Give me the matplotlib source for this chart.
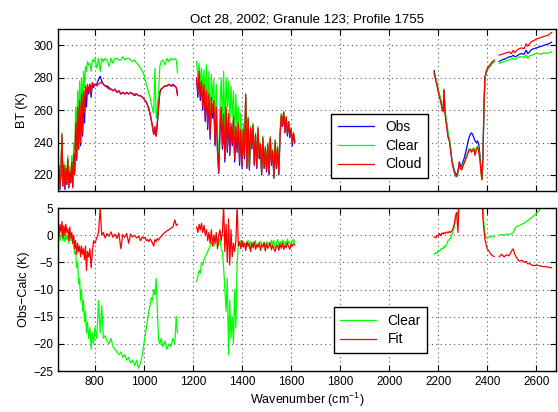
import numpy as np
import matplotlib
matplotlib.use('Agg')
import matplotlib.pyplot as plt

plt.rcParams['font.family'] = ['Liberation Sans', 'DejaVu Sans']
plt.rcParams['mathtext.default'] = 'regular'

# band 1 (650-1137 cm-1)
wn1 = [650, 654, 658, 662, 666, 670, 674, 678, 682, 686, 690, 694, 698, 702, 706, 710, 714, 718,
       722, 726, 730, 734, 738, 742, 746, 750, 754, 758, 762, 766, 770, 775, 780, 785, 790, 795, 800,
       808, 815, 822, 828, 835, 842, 850, 858, 866, 874, 882, 890, 898, 906, 914, 922, 930, 938, 946,
       954, 962, 970, 978, 986, 994, 1000, 1005, 1010, 1015, 1020, 1025, 1030, 1035, 1040, 1045, 1050,
       1055, 1060, 1065, 1070, 1078, 1086, 1094, 1102, 1110, 1118, 1126, 1132, 1137]
obs1 = [214, 224, 211, 222, 243, 213, 226, 211, 224, 214, 229, 212, 222, 215, 228, 213, 234, 222,
        250, 229, 260, 236, 264, 238, 268, 244, 270, 252, 273, 262, 275, 270, 276, 268, 277, 274, 276,
        276, 279, 281, 278, 276, 275, 275, 274, 273, 272, 273, 271, 272, 270, 271, 270, 271, 270, 271,
        270, 269, 270, 269, 269, 268, 267, 266, 265, 263, 261, 258, 254, 250, 245, 249, 244,
        252, 262, 271, 273, 274, 275, 275, 276, 275, 276, 275, 274, 270]
clr1 = [216, 226, 212, 225, 246, 215, 228, 213, 226, 216, 232, 214, 225, 218, 232, 216, 240, 228,
        262, 240, 272, 250, 278, 256, 280, 262, 284, 274, 287, 284, 290, 288, 289, 284, 291, 290, 292,
        286, 292, 284, 292, 290, 292, 291, 287, 292, 289, 292, 292, 291, 291, 293, 291, 292, 292, 291,
        290, 291, 289, 288, 286, 284, 282, 279, 276, 273, 271, 268, 264, 261, 258, 286, 255,
        262, 272, 287, 290, 291, 288, 292, 290, 292, 291, 292, 291, 283]
cld1 = [218, 226, 212, 222, 245, 214, 226, 212, 224, 215, 230, 213, 222, 216, 228, 212, 233, 220,
        252, 230, 262, 236, 266, 240, 270, 246, 272, 258, 275, 268, 276, 272, 276, 270, 277, 275, 276,
        275, 276, 277, 277, 276, 275, 274, 273, 273, 272, 273, 271, 272, 270, 271, 270, 271, 270, 271,
        270, 270, 270, 269, 269, 268, 267, 266, 265, 263, 261, 258, 254, 250, 245, 250, 244,
        253, 263, 271, 273, 274, 275, 275, 276, 275, 275, 275, 274, 269]
dclr1 = [-0.5, 0.5, -1, 0, 0.5, -1, 0, -1.2, 0.2, -0.8, 0, -1.5, 0.3, -1, -0.5, -1.5, -2, -3.5,
         -3, -6, -5, -9, -8, -12, -10, -14, -12, -16, -14, -18, -16, -19, -17, -21, -18, -20, -17,
         -19, -12, -18, -13, -19, -18.5, -19.5, -20, -19, -20.5, -21, -21.5, -22, -21.5, -22.5, -22,
         -23, -22.5, -23.5, -23, -24, -23, -24.5, -23.5, -22, -20, -18.5, -17, -15.5, -14, -13, -11.5,
         -12, -10, -11, -8, -14, -19.5, -20, -19, -20.5, -19.5, -21, -20, -20.5, -19, -20, -15, -18]
dfit1 = [1.5, 0, 2, 0.5, 2.5, -0.5, 1.8, 0, 2, 0.5, 1.2, -1, 1.5, -0.5, 0.5, -1.5, 0, -2.5,
         -1, -3.5, -1.5, -3, -2, -4, -2, -3.5, -2.5, -4.5, -2, -6.5, -3, -4, -2.5, -6, -3, -1, -1.5,
         -0.5, 0.5, 5, 0, 0.5, -0.5, 0.3, -0.2, 0.6, -0.4, 0.2, -0.6, 0.4, -2.5, 0.1, -0.4, 0.3, -1.5,
         0.2, -0.3, 0, -0.5, -0.2, -1, -0.3, -0.6, -0.4, -1, -0.8, -1.2, -0.7, -1, -1.5, -2, -0.8,
         -1.2, -0.6, -0.9, -0.5, -0.3, 0.2, 0.5, 0.8, 1, 1.3, 1.5, 2.8, 1.8, 2]

# band 2 (1215-1615 cm-1)
wn2 = list(range(1215, 1616, 5))
obs2 = [279, 268, 283, 266, 277, 260, 275, 253, 271, 248, 268, 242, 266, 255, 264, 238, 260, 234,
        221, 246, 260, 236, 256, 228, 260, 234, 256, 232, 250, 238, 254, 228, 248, 234, 250, 226,
        246, 224, 246, 230, 268, 224, 254, 223, 248, 236, 250, 226, 244, 224, 248, 230, 238, 220,
        242, 224, 236, 222, 238, 220, 242, 226, 234, 218, 240, 224, 236, 220, 244, 256, 250, 258,
        246, 255, 244, 252, 243, 248, 238, 245, 240]
clr2 = [290, 280, 289, 276, 286, 272, 285, 262, 288, 258, 284, 250, 282, 266, 279, 246, 276, 242,
        226, 262, 280, 252, 284, 246, 280, 262, 278, 250, 275, 256, 272, 240, 270, 244, 262, 232,
        258, 228, 252, 234, 270, 226, 256, 225, 250, 238, 252, 228, 246, 226, 250, 232, 240, 222,
        244, 226, 238, 224, 240, 222, 244, 228, 236, 220, 242, 226, 238, 222, 246, 258, 252, 259,
        248, 256, 246, 253, 245, 249, 240, 246, 241]
cld2 = [280, 270, 284, 268, 278, 262, 276, 255, 272, 250, 270, 245, 268, 258, 266, 240, 262, 236,
        222, 248, 262, 238, 258, 230, 262, 236, 258, 234, 252, 240, 256, 230, 250, 236, 252, 228,
        248, 226, 248, 232, 270, 225, 255, 224, 249, 237, 251, 227, 245, 225, 249, 231, 239, 221,
        243, 225, 237, 223, 239, 221, 243, 227, 235, 219, 241, 225, 237, 221, 245, 257, 251, 259,
        247, 256, 245, 253, 244, 249, 240, 246, 241]
dclr2 = [-8.5, -7.5, -6.5, -7, -5, -5.5, -4.5, -4, -3.5, -3, -2.5, -2, -1.5, -1, -2, -1.5, -0.5, -1,
         -2, -0.5, -2.5, -3, -6, -10, -14, -8, -22, -12, -19, -15, -20, -10, -17, -5, -2, -1.5,
         -1, -2, -1.2, -1.8, -1.5, -2.2, -1, -2.5, -1.2, -1.8, -1.3, -2, -1, -2.4, -1.5, -2, -1.1, -1.6,
         -2.3, -1.4, -2.6, -1.2, -1.9, -1.3, -2.1, -0.9, -1.7, -1, -2.4, -1.5, -0.8, -2, -1.2, -1.6,
         -0.9, -1.8, -1.1, -2.2, -0.7, -1.5, -1.2, -1.9, -1, -0.8, -1.3]
dfit2 = [1.5, 0.5, 2, 1, 2.2, 0.5, 1.8, 0, 1, -1, 0.5, -1.5, 1, -2, 0, -1.5, 0.5, -2.5,
         0, 1, -1, 0.5, 5.5, -3, 2, -5, 3, -5.5, 1, -4, -1.5, -3, -1, 5.5, -2, -1.2,
         -2.5, -1, -2.2, -1.5, -2.8, -1.2, -2, -1.6, -3, -1.5, -2.3, -1.2, -2.6, -1.8, -2.2, -1.4, -2.8,
         -1.7, -2.1, -1.3, -2.9, -1.6, -2.4, -2, -1.4, -2.7, -1.8, -2.5, -3, -2.1, -1.9, -2.8, -1.6,
         -2.4, -1.5, -2.6, -1.9, -2.3, -1.4, -2.1, -2.6, -1.7, -2, -1.5, -1.8]

# band 3a (2183-2428 cm-1)
wn3 = [2183, 2190, 2195, 2200, 2205, 2210, 2215, 2220, 2223, 2228, 2235, 2240, 2245, 2250, 2255,
       2260, 2265, 2270, 2275, 2280, 2286, 2290, 2295, 2300, 2305, 2310, 2315, 2320, 2325, 2330,
       2335, 2340, 2345, 2350, 2355, 2360, 2365, 2370, 2374, 2378, 2382, 2386, 2390, 2395, 2400,
       2405, 2410, 2415, 2420, 2428]
obs3 = [284.5, 279, 276, 272, 269, 266, 262, 260, 272, 258, 250, 244, 242, 236, 230,
        226, 223, 221, 220, 222, 228, 226, 225, 228, 230, 233, 236, 240, 243, 245,
        246, 245, 243, 241, 240, 241, 239, 232, 224, 218, 232, 262, 280, 283, 285,
        286, 287, 288, 289, 290]
clr3 = [283, 279, 277, 273, 270, 267, 263, 261, 271, 259, 252, 246, 243, 237, 230,
        225, 222, 219, 219, 221, 226, 224, 224, 226, 228, 230, 232, 234, 236, 236,
        235, 236, 237, 233, 236, 238, 235, 230, 222, 217, 231, 261, 279, 283, 285,
        286, 287, 288, 289, 290]
cld3 = [283, 278, 275, 271, 268, 265, 261, 259, 273, 257, 249, 243, 241, 235, 229,
        225, 222, 220, 219, 222, 228, 224, 223, 225, 227, 229, 231, 233, 235, 236,
        234, 235, 236, 232, 236, 237, 234, 229, 222, 217, 230, 260, 280, 284, 286,
        287, 288, 289, 290, 291]
dclr3 = [-3.5, -3.2, -3.4, -2.8, -3, -2.6, -2.4, -2.5, -2, -2.2, -1.6, -1, -0.8, -0.5, 0,
         0.8, 1.5, 2.7, 3.5, 4.2, 8, 12, 14, 16, 18, 20, 22, 22, 22, 22,
         22, 22, 21, 21, 20, 19, 18, 15, 12, 10, 6, 2, 0.5, -0.6, -0.5,
         -0.3, -0.4, -0.3, -0.2, -0.3]
dfit3 = [-0.3, -0.5, 0, -0.2, 0.3, -0.1, 0.4, 0.2, 0.5, 0.3, 0.6, 0.4, 0.7, 0.5, 0.8,
         1.2, 2, 3.5, 4.2, 0.5, 7, 10, 12, 14, 15, 16, 17, 17, 18, 18,
         18, 17, 17, 16, 16, 15, 14, 12, 10, 8, 3, 1, -0.8, -1.7, -2.6,
         -2.8, -3.2, -3.5, -3.8, -3.9]

# band 3b (2448-2662 cm-1)
wn4 = [2448, 2458, 2468, 2478, 2488, 2498, 2505, 2512, 2520, 2530, 2540, 2550, 2558, 2565,
       2572, 2580, 2590, 2600, 2610, 2620, 2630, 2640, 2650, 2662]
obs4 = [290, 291, 291.5, 292, 293, 293, 294, 293, 293.5, 294.5, 295, 294.5, 297, 295,
        296, 297.5, 298, 298.5, 299, 299.5, 300, 300.5, 301, 302]
clr4 = [289, 289.5, 290, 290.5, 291, 291.5, 292, 291.5, 292, 293, 293, 292.5, 294, 292,
        293.5, 294, 294.5, 295, 295, 294.5, 295.5, 295, 295.5, 296]
cld4 = [294, 294.5, 295, 295.5, 296, 295, 297, 295.5, 297, 298, 298.5, 298, 301, 299.5,
        301, 302.5, 303, 304, 304.5, 305, 305.5, 306, 306.5, 308]
dclr4 = [0, 0.1, 0, 0.2, 0.1, 0.3, 0.4, 1.2, 1.6, 1.8, 2, 2.2, 2.5, 2.7,
         3, 3.2, 3.6, 4, 4.5, 5, 5.6, 6.2, 6.8, 7.5]
dfit4 = [-4, -3.5, -4, -3.6, -3.8, -3, -2.5, -3.5, -4.2, -4.8, -4.6, -5, -4.8, -5.3,
         -5.2, -5.5, -5.6, -5.5, -5.6, -5.7, -5.8, -5.8, -5.9, -6]

bands = [(wn1, obs1, clr1, cld1, dclr1, dfit1),
         (wn2, obs2, clr2, cld2, dclr2, dfit2),
         (wn3, obs3, clr3, cld3, dclr3, dfit3),
         (wn4, obs4, clr4, cld4, dclr4, dfit4)]

fig = plt.figure(figsize=(5.58, 4.12), dpi=100)
ax1 = fig.add_axes([0.104, 0.536, 0.8925, 0.393])
ax2 = fig.add_axes([0.104, 0.0995, 0.8925, 0.3956])

lw = 0.9
for i, (wn, obs, clr, cld, dclr, dfit) in enumerate(bands):
    ax1.plot(wn, obs, color='b', lw=lw, label='Obs' if i == 0 else None)
    ax1.plot(wn, clr, color=(0, 1, 0), lw=lw, label='Clear' if i == 0 else None)
    ax1.plot(wn, cld, color='r', lw=lw, label='Cloud' if i == 0 else None)
    ax2.plot(wn, dclr, color=(0, 1, 0), lw=lw, label='Clear' if i == 0 else None)
    ax2.plot(wn, dfit, color='r', lw=lw, label='Fit' if i == 0 else None)

for ax in (ax1, ax2):
    ax.set_xlim(650, 2680)
    ax.set_xticks(range(800, 2601, 200))
    ax.grid(True, linestyle=(0, (1, 3)), color='0.35', linewidth=0.8)
    ax.tick_params(direction='in', top=True, right=True, labelsize=8.5, length=4)
    for s in ax.spines.values():
        s.set_linewidth(1.0)

ax1.set_ylim(210, 310)
ax1.set_yticks(range(220, 301, 20))
ax1.set_xticklabels([])
ax1.set_ylabel('BT (K)', fontsize=9)
ax1.set_title('Oct 28, 2002; Granule 123; Profile 1755', fontsize=9.5, pad=5)

ax2.set_ylim(-25, 5)
ax2.set_yticks(range(-25, 6, 5))
ax2.set_ylabel('Obs\u2212Calc (K)', fontsize=9, labelpad=2)
ax2.set_xlabel('Wavenumber (cm$^{-1}$)', fontsize=9, labelpad=2)

leg1 = ax1.legend(loc='lower left', bbox_to_anchor=(0.535, 0.04), fontsize=10, fancybox=False,
                  edgecolor='k', framealpha=1, handlelength=2.6, borderpad=0.45, labelspacing=0.35)
leg1.get_frame().set_linewidth(1.0)
leg2 = ax2.legend(loc='lower left', bbox_to_anchor=(0.54, 0.07), fontsize=10, fancybox=False,
                  edgecolor='k', framealpha=1, handlelength=2.6, borderpad=0.45, labelspacing=0.35)
leg2.get_frame().set_linewidth(1.0)

fig.savefig('out.png', dpi=100)
